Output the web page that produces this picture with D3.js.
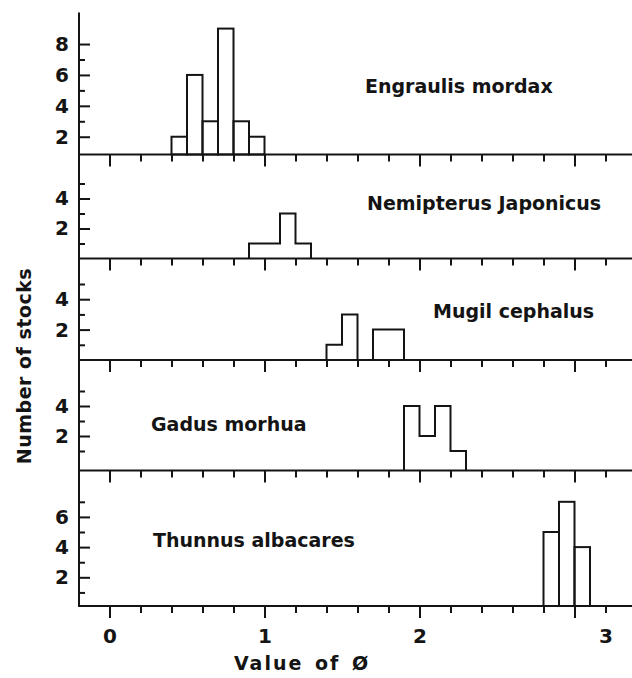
<!DOCTYPE html>
<html>
<head>
<meta charset="utf-8">
<script src="https://cdn.jsdelivr.net/npm/d3@7"></script>
<style>
  body { margin: 0; background: #fff; }
  svg { display: block; }
  text { font-family: "DejaVu Sans", sans-serif; font-weight: bold; fill: #141414; }
</style>
</head>
<body>
<svg id="chart" width="632" height="678"></svg>
<script>
// data: counts of stocks per 0.1 bin of phi
var species = ["Engraulis mordax", "Nemipterus Japonicus", "Mugil cephalus", "Gadus morhua", "Thunnus albacares"];
var binStarts = [
  [0.4, 0.5, 0.6, 0.7, 0.8, 0.9],
  [0.9, 1.0, 1.1, 1.2],
  [1.4, 1.5, 1.6, 1.7, 1.8],
  [1.9, 2.0, 2.1, 2.2],
  [2.8, 2.9, 3.0]
];
var counts = [
  [2, 6, 3, 9, 3, 2],
  [1, 1, 3, 1],
  [1, 3, 0, 2, 2],
  [4, 2, 4, 1],
  [5, 7, 4]
];
var binWidth = 0.1;
var yLabelTicks = [[2, 4, 6, 8], [2, 4], [2, 4], [2, 4], [2, 4, 6]];
var yMinorTicks = [[3, 5, 7], [1, 3, 5], [1, 3, 5], [1, 3, 5], [1, 3, 5, 7]];
var xMajorTicks = [0, 1, 2, 3];
var xMinorTicks = [0, 0.2, 0.4, 0.6, 0.8, 1, 1.2, 1.4, 1.6, 1.8, 2, 2.2, 2.4, 2.6, 2.8, 3, 3.2];
var xTickLabels = ["0", "1", "2", "3"];
var xTickLabelAt = [0, 1, 2, 3.2];   // the "3" sits under the 3.2 tick in the original

// layout
var axisX = 79, rightX = 632, axisTop = 12.5;
var panelBase = [154.5, 258.5, 360, 470.5, 606];
var panelYMin = [0.85, 0, 0, -0.3, 0.1];
var unitPx = [15.45, 15, 15.2, 15, 15.1];
var asBars = [true, false, false, false, true];   // outlined rects vs step outline
var labelPos = [[365, 93], [367, 210], [433, 318], [151, 431], [153, 547]];
var ink = "#141414";

var svg = d3.select("#chart");

var x = d3.scaleLinear()
  .domain([0, 3])
  .range([109.5, 574.5]);

species.forEach(function(name, i){
  var top = i == 0 ? axisTop : panelBase[i - 1];
  var base = panelBase[i];
  var y = d3.scaleLinear()
    .domain([panelYMin[i], panelYMin[i] + (base - top) / unitPx[i]])
    .range([base, top]);

  var g = svg.append("g").attr("class", "panel");

  var bins = binStarts[i].map(function(s, j){ return {x0: s, x1: s + binWidth, n: counts[i][j]}; });

  if (asBars[i]) {
    g.selectAll("rect")
      .data(bins)
      .enter().append("rect")
        .attr("x", function(d){ return x(d.x0); })
        .attr("y", function(d){ return y(d.n); })
        .attr("width", function(d){ return x(d.x1) - x(d.x0); })
        .attr("height", function(d){ return base - y(d.n); })
        .attr("fill", "none")
        .attr("stroke", ink)
        .attr("stroke-width", 2);
  } else {
    var pts = [[bins[0].x0, panelYMin[i]]];
    bins.forEach(function(b){
      var h = b.n > 0 ? b.n : panelYMin[i];
      pts.push([b.x0, h]);
      pts.push([b.x1, h]);
    });
    pts.push([bins[bins.length - 1].x1, panelYMin[i]]);
    g.append("path")
      .datum(pts)
      .attr("d", d3.line().x(function(p){ return x(p[0]); }).y(function(p){ return y(p[1]); }))
      .attr("fill", "none")
      .attr("stroke", ink)
      .attr("stroke-width", 2)
      .attr("stroke-linejoin", "miter");
  }

  // y ticks (pointing into the panel, labels on the left)
  g.append("g")
    .attr("transform", "translate(" + axisX + ",0)")
    .call(d3.axisLeft(y).tickValues(yLabelTicks[i]).tickSize(-11).tickPadding(10).tickFormat(d3.format("d")))
    .call(function(a){
      a.select(".domain").remove();
      a.selectAll("line").attr("stroke", ink).attr("stroke-width", 2);
      a.selectAll("text").attr("font-size", 20).attr("font-family", "DejaVu Sans").attr("font-weight", "bold").attr("fill", ink);
    });
  g.append("g")
    .attr("transform", "translate(" + axisX + ",0)")
    .call(d3.axisLeft(y).tickValues(yMinorTicks[i]).tickSize(-6).tickFormat(""))
    .call(function(a){
      a.select(".domain").remove();
      a.selectAll("line").attr("stroke", ink).attr("stroke-width", 2);
    });

  // baseline with x ticks hanging down
  g.append("line")
    .attr("x1", axisX).attr("x2", rightX)
    .attr("y1", base).attr("y2", base)
    .attr("stroke", ink).attr("stroke-width", 2);
  g.append("g")
    .attr("transform", "translate(0," + base + ")")
    .call(d3.axisBottom(x).tickValues(xMinorTicks).tickSize(7).tickFormat(""))
    .call(function(a){
      a.select(".domain").remove();
      a.selectAll("line").attr("stroke", ink).attr("stroke-width", 2);
    });
  g.append("g")
    .attr("transform", "translate(0," + base + ")")
    .call(d3.axisBottom(x).tickValues(xMajorTicks).tickSize(12).tickFormat(""))
    .call(function(a){
      a.select(".domain").remove();
      a.selectAll("line").attr("stroke", ink).attr("stroke-width", 2);
    });

  svg.append("text")
    .attr("x", labelPos[i][0])
    .attr("y", labelPos[i][1])
    .attr("font-size", 19)
    .text(name);
});

// y axis line
svg.append("line")
  .attr("x1", axisX).attr("x2", axisX)
  .attr("y1", axisTop).attr("y2", panelBase[panelBase.length - 1] + 1)
  .attr("stroke", ink).attr("stroke-width", 2);

// x tick labels on the bottom axis
svg.append("g")
  .attr("transform", "translate(0," + panelBase[panelBase.length - 1] + ")")
  .call(d3.axisBottom(x).tickValues(xTickLabelAt).tickSize(0).tickPadding(23)
    .tickFormat(function(d, k){ return xTickLabels[k]; }))
  .call(function(a){
    a.select(".domain").remove();
    a.selectAll("text").attr("font-size", 20).attr("font-family", "DejaVu Sans").attr("font-weight", "bold").attr("fill", ink);
  });

// axis titles
svg.append("text")
  .attr("x", 302)
  .attr("y", 670)
  .attr("text-anchor", "middle")
  .attr("font-size", 19)
  .style("letter-spacing", "2px")
  .style("word-spacing", "3px")
  .text("Value of Ø");

svg.append("text")
  .attr("transform", "translate(31,366) rotate(-90)")
  .attr("text-anchor", "middle")
  .attr("font-size", 19)
  .style("letter-spacing", "0.5px")
  .text("Number of stocks");
</script>
</body>
</html>
